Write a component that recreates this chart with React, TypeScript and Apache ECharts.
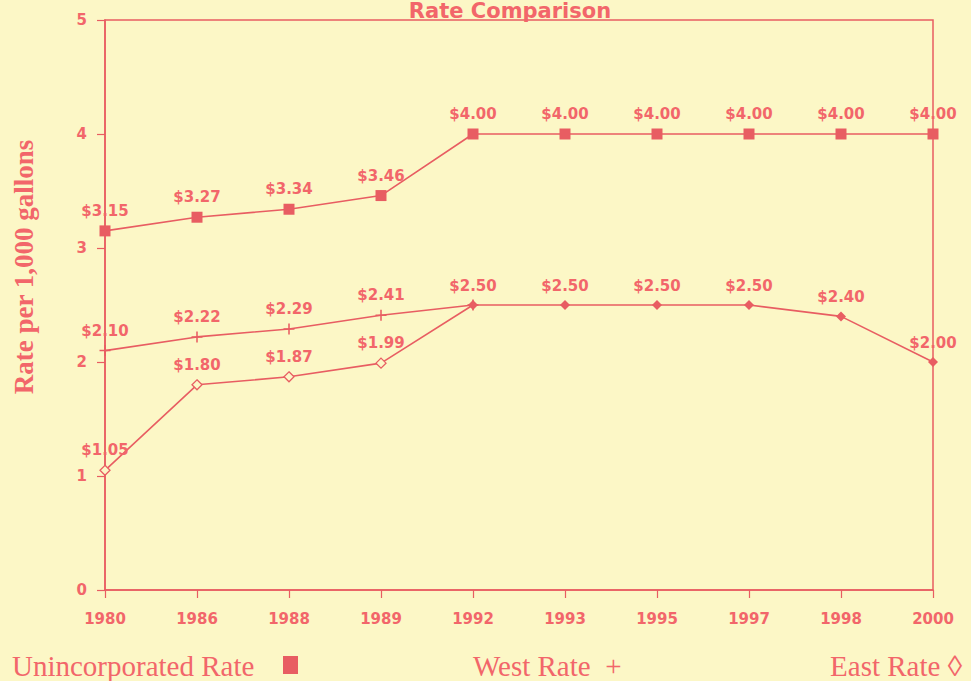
import React, { useEffect, useRef } from "react";
import * as echarts from "echarts";

const years = ["1980", "1986", "1988", "1989", "1992", "1993", "1995", "1997", "1998", "2000"];
const unincorporated = [3.15, 3.27, 3.34, 3.46, 4.0, 4.0, 4.0, 4.0, 4.0, 4.0];
const west = [2.1, 2.22, 2.29, 2.41, 2.5, null, null, null, null, null];
const east = [1.05, 1.8, 1.87, 1.99, 2.5, 2.5, 2.5, 2.5, 2.4, 2.0];
const eastHollow = [true, true, true, true, false, false, false, false, false, false];

const BG = "#FCF7C6";
const TXT = "#F2666A";
const LINE = "#E85D62";

export default function App() {
  const ref = useRef<HTMLDivElement>(null);
  useEffect(() => {
    if (!ref.current) return;
    const chart = echarts.init(ref.current, null, { renderer: "svg" });
    const labelStyle = {
      show: true,
      position: "top",
      distance: 7,
      color: TXT,
      fontFamily: "DejaVu Sans",
      fontWeight: "bold",
      fontSize: 15,
      formatter: (p: any) => "$" + Number(p.value).toFixed(2),
    };
    const plus =
      "path://M-0.14,-1H0.14V-0.14H1V0.14H0.14V1H-0.14V0.14H-1V-0.14H-0.14Z";
    chart.setOption({
      animation: false,
      backgroundColor: BG,
      grid: {
        left: 105,
        right: 38,
        top: 20,
        bottom: 91,
        show: true,
        borderColor: LINE,
        borderWidth: 1.5,
      },
      xAxis: {
        type: "category",
        data: years,
        boundaryGap: false,
        axisLine: { lineStyle: { color: LINE, width: 1.5 } },
        axisTick: { show: true, length: 8, lineStyle: { color: LINE, width: 1.2 } },
        axisLabel: {
          color: TXT,
          fontFamily: "DejaVu Sans",
          fontWeight: "bold",
          fontSize: 15,
          margin: 21,
        },
        splitLine: { show: false },
      },
      yAxis: {
        type: "value",
        min: 0,
        max: 5,
        interval: 1,
        axisLine: { show: true, lineStyle: { color: LINE, width: 1.5 } },
        axisTick: { show: true, length: 8, lineStyle: { color: LINE, width: 1.2 } },
        axisLabel: {
          color: TXT,
          fontFamily: "DejaVu Sans",
          fontWeight: "bold",
          fontSize: 15,
          margin: 18,
        },
        splitLine: { show: false },
      },
      series: [
        {
          name: "Unincorporated Rate",
          type: "line",
          data: unincorporated,
          symbol: "rect",
          symbolSize: 11,
          lineStyle: { color: LINE, width: 1.6 },
          itemStyle: { color: LINE },
          label: labelStyle,
        },
        {
          name: "West Rate",
          type: "line",
          data: west.map((v, i) => ({
            value: v,
            label: { show: i < 4 },
          })),
          symbol: plus,
          symbolSize: 11,
          lineStyle: { color: LINE, width: 1.6 },
          itemStyle: { color: LINE },
          label: labelStyle,
        },
        {
          name: "East Rate",
          type: "line",
          data: east.map((v, i) => ({
            value: v,
            itemStyle: eastHollow[i]
              ? { color: BG, borderColor: LINE, borderWidth: 1.3 }
              : { color: LINE },
          })),
          symbol: "diamond",
          symbolSize: 10,
          lineStyle: { color: LINE, width: 1.6 },
          itemStyle: { color: LINE },
          label: labelStyle,
        },
      ],
      graphic: [
        {
          type: "text",
          x: 510,
          y: 11,
          style: {
            text: "Rate Comparison",
            fill: TXT,
            font: "bold 21px 'DejaVu Sans'",
            align: "center",
            verticalAlign: "middle",
          },
        },
        {
          type: "text",
          x: 24,
          y: 267,
          rotation: Math.PI / 2,
          style: {
            text: "Rate per 1,000 gallons",
            fill: TXT,
            font: "bold 27px 'Liberation Serif'",
            align: "center",
            verticalAlign: "middle",
          },
        },
        {
          type: "text",
          x: 12,
          y: 666,
          style: {
            text: "Unincorporated Rate",
            fill: TXT,
            font: "29px 'Liberation Serif'",
            align: "left",
            verticalAlign: "middle",
          },
        },
        {
          type: "rect",
          shape: { x: 283, y: 656, width: 15, height: 18 },
          style: { fill: LINE },
        },
        {
          type: "text",
          x: 473,
          y: 666,
          style: {
            text: "West Rate  +",
            fill: TXT,
            font: "29px 'Liberation Serif'",
            align: "left",
            verticalAlign: "middle",
          },
        },
        {
          type: "text",
          x: 962,
          y: 666,
          style: {
            text: "East Rate \u25CA",
            fill: TXT,
            font: "29px 'Liberation Serif'",
            align: "right",
            verticalAlign: "middle",
          },
        },
      ],
    });
    return () => chart.dispose();
  }, []);
  return (
    <div
      ref={ref}
      style={{ position: "fixed", left: 0, top: 0, width: 971, height: 681 }}
    />
  );
}
